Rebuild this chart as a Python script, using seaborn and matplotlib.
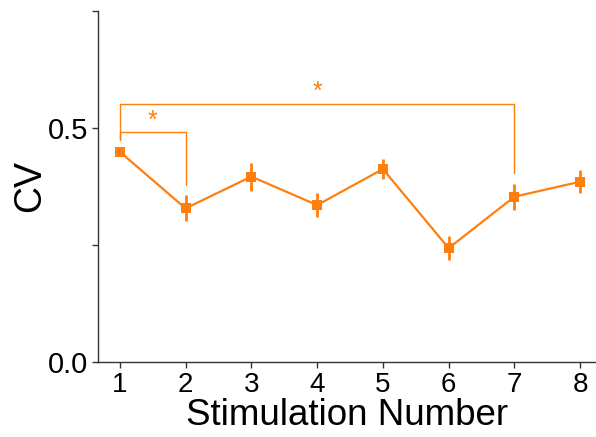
import matplotlib
matplotlib.use("Agg")
import matplotlib.pyplot as plt
import seaborn as sns
import numpy as np
import pandas as pd

stimulation = [1, 2, 3, 4, 5, 6, 7, 8]
cv_mean = [0.449, 0.328, 0.396, 0.335, 0.412, 0.243, 0.353, 0.385]
cv_err = [0.010, 0.028, 0.030, 0.025, 0.022, 0.025, 0.028, 0.025]
y_ticks = [0.0, 0.25, 0.5, 0.75]
y_tick_labels = ["0.0", "", "0.5", ""]
# significance brackets: (from, to, bar height, left leg bottom, right leg bottom, star height)
brackets = [
    (1, 2, 0.491, 0.474, 0.378, 0.515),
    (1, 7, 0.551, 0.474, 0.404, 0.578),
]

sns.set_style("ticks")
plt.rcParams["font.family"] = ["Liberation Sans", "DejaVu Sans"]
plt.rcParams["text.color"] = "black"
plt.rcParams["axes.labelcolor"] = "black"
plt.rcParams["xtick.labelcolor"] = "black"
plt.rcParams["ytick.labelcolor"] = "black"

color = "#ff7f0e"
df = pd.DataFrame({"Stimulation Number": stimulation, "CV": cv_mean})

fig = plt.figure(figsize=(5.96, 4.37), dpi=100)
ax = fig.add_axes([0.164, 0.172, 0.836, 0.803])

ax.errorbar(stimulation, cv_mean, yerr=cv_err, fmt="none", ecolor=color,
            elinewidth=2, capsize=0, zorder=2)
sns.lineplot(data=df, x="Stimulation Number", y="CV", color=color, marker="s",
             markersize=7, markeredgewidth=0, linewidth=1.6, ax=ax, zorder=3)

for x0, x1, h, lb, rb, sh in brackets:
    ax.plot([x0, x0, x1, x1], [lb, h, h, rb], color=color, lw=1.0, zorder=1)
    ax.text((x0 + x1) / 2, sh, "*", color=color, ha="center", va="center",
            fontsize=18)

ax.set_xlim(0.665, 8.24)
ax.set_ylim(0, 0.75)
ax.set_xticks(stimulation)
ax.set_xticklabels([str(s) for s in stimulation], fontsize=20)
ax.set_yticks(y_ticks)
ax.set_yticklabels(y_tick_labels, fontsize=21)
ax.tick_params(axis="both", length=4, width=1, color="#333333", pad=3)
ax.set_xlabel("Stimulation Number", fontsize=26.5, labelpad=0)
ax.set_ylabel("CV", fontsize=27, labelpad=0)
sns.despine(ax=ax)
for s in ["left", "bottom"]:
    ax.spines[s].set_color("#333333")
    ax.spines[s].set_linewidth(1)

fig.savefig("out.png", dpi=100)
